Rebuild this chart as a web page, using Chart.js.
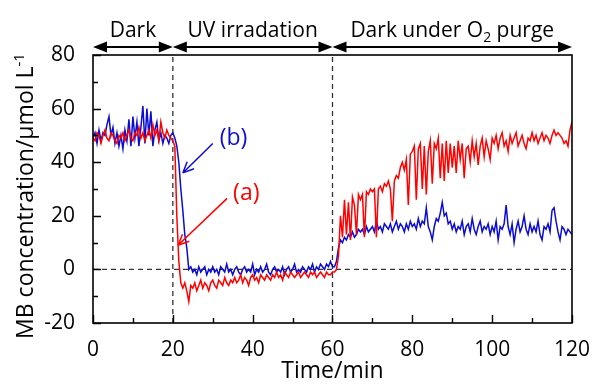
<!DOCTYPE html>
<html>
<head>
<meta charset="utf-8">
<script src="https://cdn.jsdelivr.net/npm/chart.js@4.4.1/dist/chart.umd.min.js"></script>
<style>
  html, body { margin: 0; padding: 0; background: #fff; }
  #wrap { width: 596px; height: 385px; }
</style>
</head>
<body>
<div id="wrap"><canvas id="mbChart" width="596" height="385"></canvas></div>
<script>
// one reading every half minute, t = 0 ... 120 min
const sampleStep = 0.5;

// (a) red curve
const redDark = [49,48,51,50,47,50,52,49,48,51,50,48,47,50,49,51,48,50,52,49,48,51,50,53,49,51,48,50,52,49,54,50,52,48,55,51,49,52,50,49,48];
const redUV = [46,20,3,-5,-7,-5,-8,-12,
  -6,-7,-5,-8,-6,-4,-7,-5,-6,-8,-5,-4,-6,-7,-4,-5,-6,-3,-5,-6,-4,-5,
  -3,-5,-4,-2,-5,-3,-4,-6,-3,-2,-4,-3,-5,-2,-3,-4,-2,-3,-4,-2,
  -3,-1,-3,-2,-4,-1,-2,-3,-1,-2,-3,-2,-1,-3,-2,-1,-2,-3,-1,-2,-1,-3,-2,-1,-2,-3,-1,-2,-2,-1];
const redPurge = [-1,0,5,20,12,26,13,25,11,27,24,13,28,26,28,12,29,28,30,29,
  30,12,30,31,29,32,31,33,30,18,33,35,34,38,40,37,41,24,43,44,
  46,26,45,47,30,46,28,44,48,32,47,45,49,34,47,33,48,36,47,38,
  46,36,48,41,47,34,45,46,40,48,42,47,39,46,49,42,48,45,41,49,
  47,50,45,49,51,46,48,44,50,47,49,51,46,48,50,47,45,49,48,51,
  48,50,47,49,51,48,50,49,47,50,52,50,51,50,49,47,48,46,52,55];

// (b) blue curve
const blueDark = [49,51,47,52,48,51,50,54,57,50,53,47,51,46,50,45,52,48,56,46,57,49,55,46,53,61,47,60,50,59,46,52,55,48,51,47,50,49,47,50,51];
const blueUV = [49,46,40,30,22,13,8,0,
  1,-1,0,-2,1,-1,0,1,-2,0,-1,1,-1,0,-2,1,0,-1,2,-1,
  0,-2,0,1,-1,-2,0,1,-1,0,-1,2,-2,0,-1,1,-1,0,2,-1,
  -2,0,1,-1,0,-1,1,-2,0,1,-1,0,2,-1,0,-1,1,0,-1,1,
  0,2,-1,1,0,2,1,0,2,1,3,1];
const bluePurge = [1,3,8,11,10,12,11,13,12,14,12,13,15,14,15,13,16,14,15,16,
  14,18,15,16,14,17,16,15,17,14,16,18,15,17,16,14,17,15,18,16,
  17,15,19,16,18,17,23,16,14,11,16,19,18,21,25,20,21,17,18,15,
  17,14,16,15,18,13,16,17,14,19,15,13,16,18,14,16,15,17,13,16,
  14,18,11,16,15,17,24,16,13,17,10,15,18,14,16,20,15,13,17,14,
  16,14,18,13,11,16,15,17,14,22,23,18,14,11,16,15,13,15,14,13];

const xTicks = [0, 20, 40, 60, 80, 100, 120];
const xMinorTicks = [10, 30, 50, 70, 90, 110];
const yTicks = [-20, 0, 20, 40, 60, 80];
const yMinorTicks = [-10, 10, 30, 50, 70];

const phaseBounds = [0, 20, 60, 120];
const phaseLabels = ["Dark", "UV irradation", "Dark under O_2 purge"];

const ink = "#000";
const redColor = "#ff0000";
const blueColor = "#0c0cd0";
const fontFamily = "'Open Sans', sans-serif";

const toPoints = ys => ys.map((y, i) => ({ x: i * sampleStep, y: y }));
const curveA = toPoints(redDark.concat(redUV, redPurge));
const curveB = toPoints(blueDark.concat(blueUV, bluePurge));

function dashedLine(points) {
  return {
    data: points, borderColor: "#333", borderWidth: 1.3, borderDash: [5, 4],
    pointRadius: 0, fill: false, order: 5
  };
}

function drawRuns(ctx, runs, x, y) {
  let total = 0;
  runs.forEach(r => { ctx.font = r[1] + "px " + fontFamily; total += ctx.measureText(r[0]).width; });
  let cx = x - total / 2;
  ctx.textAlign = "left";
  runs.forEach(r => {
    ctx.font = r[1] + "px " + fontFamily;
    ctx.fillText(r[0], cx, y + r[2]);
    cx += ctx.measureText(r[0]).width;
  });
}

function labelRuns(text) {
  // "_2" marks a subscript digit
  const parts = text.split(/_(\d)/);
  return parts.map((p, i) => i % 2 ? [p, 14, 5] : [p, 21, 0]).filter(r => r[0] !== "");
}

function openArrow(ctx, x0, y0, x1, y1, color) {
  const ang = Math.atan2(y1 - y0, x1 - x0);
  ctx.strokeStyle = color;
  ctx.lineWidth = 1.5;
  ctx.beginPath();
  ctx.moveTo(x0, y0);
  ctx.lineTo(x1, y1);
  [-1, 1].forEach(s => {
    ctx.moveTo(x1, y1);
    ctx.lineTo(x1 - 12 * Math.cos(ang + s * 0.42), y1 - 12 * Math.sin(ang + s * 0.42));
  });
  ctx.stroke();
}

const decorations = {
  id: "decorations",
  afterDraw(chart) {
    const { ctx, chartArea: a } = chart;
    const x = chart.scales.x, y = chart.scales.y;
    ctx.save();

    // frame
    ctx.strokeStyle = ink;
    ctx.lineWidth = 1.6;
    ctx.strokeRect(a.left, a.top, a.right - a.left, a.bottom - a.top);

    // ticks pointing inward
    ctx.lineWidth = 1.4;
    ctx.beginPath();
    xTicks.concat(xMinorTicks).forEach(v => {
      const px = Math.round(x.getPixelForValue(v)) + 0.5;
      const len = xTicks.includes(v) ? 8 : 5;
      ctx.moveTo(px, a.bottom);
      ctx.lineTo(px, a.bottom - len);
    });
    yTicks.concat(yMinorTicks).forEach(v => {
      const py = Math.round(y.getPixelForValue(v)) + 0.5;
      const len = yTicks.includes(v) ? 8 : 5;
      ctx.moveTo(a.left, py);
      ctx.lineTo(a.left + len, py);
    });
    ctx.stroke();

    // phase arrows on top
    const arrowY = a.top - 8;
    ctx.fillStyle = ink;
    ctx.textBaseline = "alphabetic";
    for (let k = 0; k < phaseLabels.length; k++) {
      const x0 = x.getPixelForValue(phaseBounds[k]);
      const x1 = x.getPixelForValue(phaseBounds[k + 1]);
      ctx.lineWidth = 1.8;
      ctx.beginPath();
      ctx.moveTo(x0 + 8, arrowY);
      ctx.lineTo(x1 - 8, arrowY);
      ctx.stroke();
      ctx.beginPath();
      ctx.moveTo(x0, arrowY); ctx.lineTo(x0 + 14, arrowY - 5.5); ctx.lineTo(x0 + 14, arrowY + 5.5);
      ctx.closePath();
      ctx.moveTo(x1, arrowY); ctx.lineTo(x1 - 14, arrowY - 5.5); ctx.lineTo(x1 - 14, arrowY + 5.5);
      ctx.closePath();
      ctx.fill();
      drawRuns(ctx, labelRuns(phaseLabels[k]), (x0 + x1) / 2, a.top - 18);
    }

    // y axis title with superscript
    ctx.save();
    ctx.translate(33, (a.top + a.bottom) / 2 + 7);
    ctx.rotate(-Math.PI / 2);
    ctx.fillStyle = ink;
    drawRuns(ctx, [["MB concentration/\u03bcmol L", 23, 0], ["-1", 15, -9]], 0, 0);
    ctx.restore();

    // curve annotations
    ctx.textBaseline = "middle";
    ctx.fillStyle = blueColor;
    drawRuns(ctx, [["(b)", 23, 0]], x.getPixelForValue(35.2), y.getPixelForValue(49));
    openArrow(ctx, x.getPixelForValue(30), y.getPixelForValue(47), x.getPixelForValue(22.5), y.getPixelForValue(36), blueColor);
    ctx.fillStyle = redColor;
    drawRuns(ctx, [["(a)", 23, 0]], x.getPixelForValue(38.4), y.getPixelForValue(28.5));
    openArrow(ctx, x.getPixelForValue(33.6), y.getPixelForValue(26.5), x.getPixelForValue(21.3), y.getPixelForValue(9), redColor);

    ctx.restore();
  }
};

new Chart(document.getElementById("mbChart"), {
  type: "line",
  data: {
    datasets: [
      { label: "(a)", data: curveA, borderColor: redColor, borderWidth: 1.5, pointRadius: 0, tension: 0, order: 1 },
      { label: "(b)", data: curveB, borderColor: blueColor, borderWidth: 1.5, pointRadius: 0, tension: 0, order: 2 },
      dashedLine([{ x: 0, y: 0 }, { x: 120, y: 0 }]),
      dashedLine([{ x: 20, y: -20 }, { x: 20, y: 80 }]),
      dashedLine([{ x: 60, y: -20 }, { x: 60, y: 80 }])
    ]
  },
  options: {
    responsive: false,
    animation: false,
    devicePixelRatio: 1,
    layout: { padding: { left: 0, top: 55, right: 23, bottom: 0 } },
    plugins: { legend: { display: false }, tooltip: { enabled: false } },
    scales: {
      x: {
        type: "linear", min: 0, max: 120,
        afterBuildTicks: s => { s.ticks = xTicks.map(v => ({ value: v })); },
        afterFit: s => { s.height = 62; },
        grid: { display: false }, border: { display: false },
        ticks: { color: ink, font: { family: fontFamily, size: 21 }, padding: 6, maxRotation: 0 },
        title: { display: true, text: "Time/min", color: ink, font: { family: fontFamily, size: 23 }, padding: 0 }
      },
      y: {
        type: "linear", min: -20, max: 80,
        afterBuildTicks: s => { s.ticks = yTicks.map(v => ({ value: v })); },
        afterFit: s => { s.width = 93; },
        grid: { display: false }, border: { display: false },
        ticks: { color: ink, font: { family: fontFamily, size: 21 }, padding: 10 }
      }
    }
  },
  plugins: [decorations]
});
</script>
</body>
</html>
